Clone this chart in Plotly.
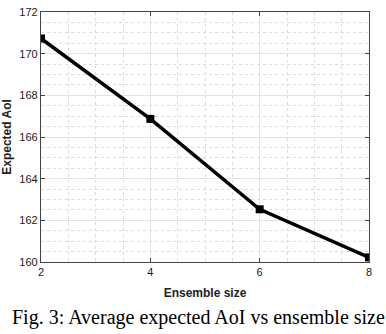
import plotly.graph_objects as go

# ensemble size vs expected AoI
ensemble_size = [2, 4, 6, 8]
expected_aoi = [170.73, 166.87, 162.53, 160.22]

x_ticks = [2, 4, 6, 8]
y_ticks = [160, 162, 164, 166, 168, 170, 172]

trace = go.Scatter(x=ensemble_size,
                   y=expected_aoi,
                   mode='lines+markers',
                   line={'color': 'black', 'width': 3.5},
                   marker={'color': 'black', 'symbol': 'square', 'size': 8},
                   showlegend=False)

axis_style = dict(showline=True, linecolor='#444', linewidth=1.2, mirror='ticks',
                  ticks='inside', ticklen=4, tickcolor='#444',
                  showgrid=True, gridcolor='#e3e3e3', gridwidth=1,
                  zeroline=False, ticklabeloverflow='allow',
                  tickfont={'family': 'Liberation Sans', 'size': 11, 'color': '#1a1a1a'})

layout = go.Layout(width=386, height=334,
                   margin=dict(l=41, r=17, t=6, b=72),
                   plot_bgcolor='white', paper_bgcolor='white',
                   xaxis=dict(axis_style, range=[2, 8], tickvals=x_ticks,
                              minor=dict(dtick=0.5, showgrid=True, gridcolor='#dcdcdc',
                                         griddash='dot', ticks=''),
                              title=dict(text='<b>Ensemble size</b>', standoff=11,
                                         font={'family': 'Liberation Sans', 'size': 12, 'color': '#222'})),
                   yaxis=dict(axis_style, range=[160, 172], tickvals=y_ticks,
                              minor=dict(dtick=0.5, showgrid=True, gridcolor='#dcdcdc',
                                         griddash='dot', ticks=''),
                              title=dict(text='<b>Expected AoI</b>', standoff=5,
                                         font={'family': 'Liberation Sans', 'size': 12, 'color': '#222'})),
                   annotations=[dict(text='Fig. 3: Average expected AoI vs ensemble size',
                                     xref='paper', yref='paper', x=0.479, y=-0.223,
                                     xanchor='center', yanchor='middle', showarrow=False,
                                     font={'family': 'Liberation Serif', 'size': 20, 'color': 'black'})])

fig = go.Figure(data=[trace], layout=layout)
fig.write_html("out.html", config={'displayModeBar': False},
               post_script="document.body.style.margin='0';")
